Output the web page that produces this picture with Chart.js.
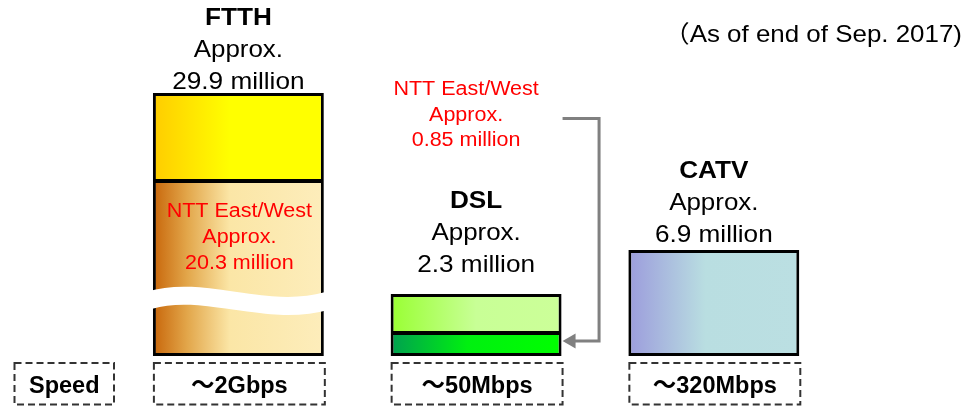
<!DOCTYPE html>
<html>
<head>
<meta charset="utf-8">
<script src="https://cdn.jsdelivr.net/npm/chart.js@4/dist/chart.umd.min.js"></script>
<style>
  html, body { margin: 0; padding: 0; background: #fff; }
  canvas { display: block; }
</style>
</head>
<body>
<canvas id="c" width="965" height="406"></canvas>
<script>
// Broadband subscribers by access type (millions)
const categories = ['FTTH', 'DSL', 'CATV'];
const totalSubscribers = [29.9, 2.3, 6.9];
const nttSubscribers = [20.3, 0.85, null];   // NTT East/West share
const speeds = ['～2Gbps', '～50Mbps', '～320Mbps'];
const speedHeading = 'Speed';
const asOfNote = '（As of end of Sep. 2017)';

// The diagram is schematic, not to scale: the value axis is piecewise linear.
// Each knot is [value, fraction of plot height].
const axisKnots = [[0, 0], [0.85, 0.0875], [2.3, 0.2357], [6.9, 0.403], [20.3, 0.665], [29.9, 1]];

function toDecimal(v) {
  const k = axisKnots;
  let i = 1;
  while (i < k.length - 1 && v > k[i][0]) i++;
  const [v0, d0] = k[i - 1], [v1, d1] = k[i];
  return d0 + (v - v0) / (v1 - v0) * (d1 - d0);
}
function fromDecimal(d) {
  const k = axisKnots;
  let i = 1;
  while (i < k.length - 1 && d > k[i][1]) i++;
  const [v0, d0] = k[i - 1], [v1, d1] = k[i];
  return v0 + (d - d0) / (d1 - d0) * (v1 - v0);
}

class BrokenScale extends Chart.LinearScale {
  getPixelForValue(v) {
    if (v === null || v === undefined || isNaN(v)) return NaN;
    return this.getPixelForDecimal(toDecimal(v));
  }
  getValueForPixel(p) {
    return fromDecimal(this.getDecimalForPixel(p));
  }
}
BrokenScale.id = 'broken';
BrokenScale.defaults = Chart.LinearScale.defaults;
Chart.register(BrokenScale);

const BAR_PCT = 0.719;
const FONT = '"Liberation Sans", Arial, "Noto Sans CJK JP", sans-serif';

// horizontal gradient stops per category, [offset, colour]
const upperStops = [
  [[0, '#FFCC00'], [0.45, '#FFFF00'], [1, '#FFFF00']],
  [[0, '#99FF33'], [0.5, '#C8FF96'], [1, '#CCFF99']],
  [[0, '#9C9CDC'], [0.45, '#B9DEE1'], [1, '#BBDFE2']]
];
const lowerStops = [
  [[0, '#C8660A'], [0.2, '#E2A64A'], [0.45, '#FBE6A6'], [1, '#FDEDBB']],
  [[0, '#00A050'], [0.45, '#00F010'], [1, '#00FF00']],
  null
];

function barGradient(c, stopsList) {
  const chart = c.chart, i = c.dataIndex, stops = stopsList[i];
  if (!stops) return '#fff';
  const xs = chart.scales.x;
  if (!xs || !chart.chartArea) return stops[0][1];
  const cx = xs.getPixelForValue(i);
  const half = xs.width / categories.length * BAR_PCT / 2;
  const g = chart.ctx.createLinearGradient(cx - half, 0, cx + half, 0);
  stops.forEach(([o, col]) => g.addColorStop(o, col));
  return g;
}

function stretchedText(ctx, text, x, y, sx) {
  ctx.save();
  ctx.translate(x, y);
  ctx.scale(sx, 1);
  ctx.fillText(text, 0, 0);
  ctx.restore();
}

const annotations = {
  id: 'annotations',
  afterDatasetsDraw(chart) {
    const ctx = chart.ctx;
    const lower = chart.getDatasetMeta(0).data;
    const upper = chart.getDatasetMeta(1).data;

    // break mark across the FTTH bar
    const f = lower[0];
    const l = f.x - f.width / 2 - 3, r = f.x + f.width / 2 + 3, w = r - l;
    const cy = f.y + (f.base - f.y) * 0.68;
    ctx.save();
    ctx.beginPath();
    ctx.moveTo(l, cy);
    ctx.bezierCurveTo(l + w * 0.31, cy - 16, l + w * 0.65, cy + 18, r, cy + 1);
    ctx.lineWidth = 18;
    ctx.strokeStyle = '#fff';
    ctx.stroke();
    ctx.restore();

    ctx.save();
    ctx.textAlign = 'center';
    ctx.textBaseline = 'alphabetic';
    const labelGap = [4, 22, 8];
    const LINE = 31.8;
    upper.forEach((el, i) => {
      const base = el.y - labelGap[i];
      ctx.fillStyle = '#000';
      ctx.font = 'bold 24px ' + FONT;
      stretchedText(ctx, categories[i], el.x, base - 2 * LINE, 1.09);
      ctx.font = '24px ' + FONT;
      stretchedText(ctx, 'Approx.', el.x, base - LINE, 1.08);
      stretchedText(ctx, totalSubscribers[i] + ' million', el.x, base, 1.09);
    });

    // NTT East/West shares
    ctx.fillStyle = '#FF0000';
    ctx.font = '20px ' + FONT;
    const RED_LINE = 25.7;
    const redLines = v => ['NTT East/West', 'Approx.', v + ' million'];
    const fx = lower[0].x + 1, fy = lower[0].y + 36;
    redLines(nttSubscribers[0]).forEach((t, k) => stretchedText(ctx, t, fx, fy + k * RED_LINE, 1.075));
    const d = lower[1];
    const dx = d.x - 10, dy = 95;
    redLines(nttSubscribers[1]).forEach((t, k) => stretchedText(ctx, t, dx, dy + k * RED_LINE, 1.075));

    // connector from the DSL note to the NTT part of the DSL bar
    const right = d.x + d.width / 2;
    const ay = d.y + 8;
    const vx = right + 37.5;
    ctx.strokeStyle = '#808080';
    ctx.fillStyle = '#808080';
    ctx.lineWidth = 3;
    ctx.beginPath();
    ctx.moveTo(right + 1, 118.5);
    ctx.lineTo(vx, 118.5);
    ctx.lineTo(vx, ay);
    ctx.lineTo(right + 12, ay);
    ctx.stroke();
    ctx.beginPath();
    ctx.moveTo(right + 1, ay);
    ctx.lineTo(right + 14, ay - 7.5);
    ctx.lineTo(right + 14, ay + 7.5);
    ctx.closePath();
    ctx.fill();

    // speed boxes
    const boxTop = 363, boxBottom = 404.5;
    ctx.strokeStyle = '#333';
    ctx.lineWidth = 2;
    ctx.setLineDash([7, 4]);
    ctx.fillStyle = '#000';
    ctx.font = 'bold 23.5px ' + FONT;
    const box = (x0, x1, text) => {
      ctx.strokeRect(x0, boxTop, x1 - x0, boxBottom - boxTop);
      ctx.fillText(text, (x0 + x1) / 2, 392.5);
    };
    box(14.5, 114, speedHeading);
    upper.forEach((el, i) => {
      box(el.x - el.width / 2 + 1, el.x + el.width / 2 + 1, speeds[i]);
    });
    ctx.setLineDash([]);

    // date note
    ctx.font = '24px ' + FONT;
    ctx.textAlign = 'right';
    stretchedText(ctx, asOfNote, 962, 41.7, 1.08);
    ctx.restore();
  }
};

const upperData = totalSubscribers.map((t, i) =>
  nttSubscribers[i] == null ? [0, t] : [nttSubscribers[i], t]);

new Chart(document.getElementById('c'), {
  type: 'bar',
  data: {
    labels: categories,
    datasets: [
      {
        label: 'NTT East/West',
        data: nttSubscribers,
        grouped: false,
        backgroundColor: c => barGradient(c, lowerStops),
        borderColor: '#000',
        borderWidth: { top: 2, left: 3, right: 3, bottom: 3 },
        borderSkipped: false
      },
      {
        label: 'Subscribers',
        data: upperData,
        grouped: false,
        backgroundColor: c => barGradient(c, upperStops),
        borderColor: '#000',
        borderWidth: c => nttSubscribers[c.dataIndex] == null
          ? 3 : { top: 3, left: 3, right: 3, bottom: 2 },
        borderSkipped: false
      }
    ]
  },
  options: {
    responsive: false,
    animation: false,
    events: [],
    clip: false,
    layout: { padding: { left: 119.5, right: 132.3, top: 93, bottom: 50 } },
    datasets: { bar: { barPercentage: BAR_PCT, categoryPercentage: 1 } },
    scales: {
      x: { display: false },
      y: { type: 'broken', display: false, min: 0, max: 29.9 }
    },
    plugins: { legend: { display: false }, tooltip: { enabled: false } }
  },
  plugins: [annotations]
});
</script>
</body>
</html>
